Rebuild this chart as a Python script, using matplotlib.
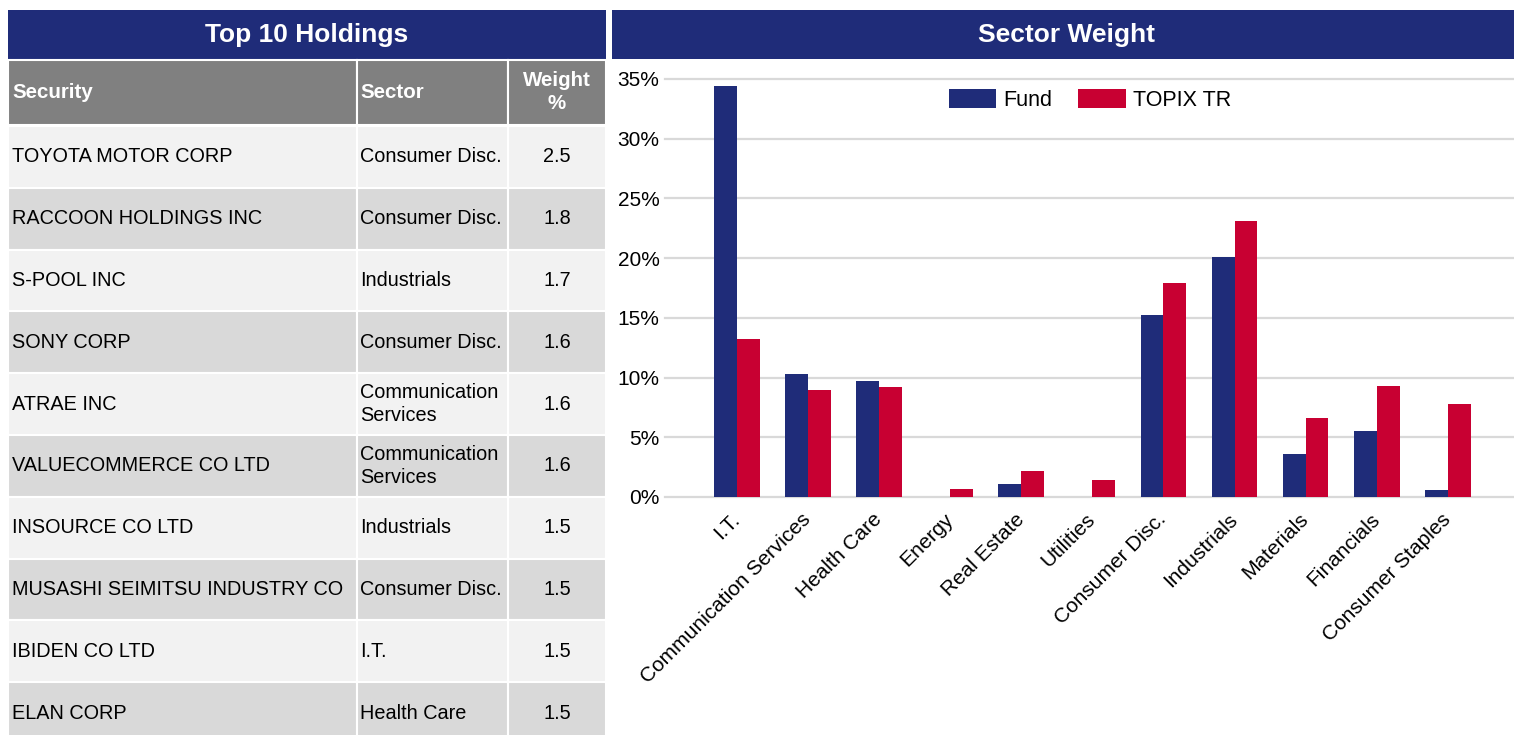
import numpy as np
import matplotlib
matplotlib.use("Agg")
import matplotlib.pyplot as plt
from matplotlib.patches import Rectangle

plt.rcParams['font.family'] = ['Liberation Sans', 'DejaVu Sans']

# top 10 holdings table
securities = ["TOYOTA MOTOR CORP", "RACCOON HOLDINGS INC", "S-POOL INC", "SONY CORP",
              "ATRAE INC", "VALUECOMMERCE CO LTD", "INSOURCE CO LTD",
              "MUSASHI SEIMITSU INDUSTRY CO", "IBIDEN CO LTD", "ELAN CORP"]
sectors = ["Consumer Disc.", "Consumer Disc.", "Industrials", "Consumer Disc.",
           "Communication\nServices", "Communication\nServices", "Industrials",
           "Consumer Disc.", "I.T.", "Health Care"]
weights = ["2.5", "1.8", "1.7", "1.6", "1.6", "1.6", "1.5", "1.5", "1.5", "1.5"]

# sector weight chart (%)
categories = ["I.T.", "Communication Services", "Health Care", "Energy", "Real Estate",
              "Utilities", "Consumer Disc.", "Industrials", "Materials", "Financials",
              "Consumer Staples"]
fund = [34.4, 10.3, 9.7, 0.0, 1.1, 0.0, 15.2, 20.1, 3.6, 5.5, 0.6]
topix = [13.2, 9.0, 9.2, 0.7, 2.2, 1.4, 17.9, 23.1, 6.6, 9.3, 7.8]

NAVY = "#1F2C79"
RED = "#C80032"
W, H = 1514, 735
TFS = 14.3  # table font size

fig = plt.figure(figsize=(W / 100, H / 100), dpi=100)

# background axes in pixel coordinates for the table and title bars
bg = fig.add_axes([0, 0, 1, 1])
bg.set_xlim(0, W)
bg.set_ylim(H, 0)
bg.axis("off")

# title bars
bg.add_patch(Rectangle((8, 10), 598, 49, fc=NAVY, ec="none"))
bg.add_patch(Rectangle((612, 10), W - 612, 49, fc=NAVY, ec="none"))
bg.text(307, 35, "Top 10 Holdings", color="white", fontsize=19, fontweight="bold",
        ha="center", va="center")
bg.text(1066, 35, "Sector Weight", color="white", fontsize=19, fontweight="bold",
        ha="center", va="center")

# header row
col_x = [8, 357, 508, 606]
hdr_top, hdr_bot = 60, 125
for j in range(3):
    bg.add_patch(Rectangle((col_x[j], hdr_top), col_x[j + 1] - col_x[j], hdr_bot - hdr_top,
                           fc="#808080", ec="white", lw=1.5))
bg.text(12, 92, "Security", color="white", fontsize=TFS + 0.5, fontweight="bold", va="center")
bg.text(360, 92, "Sector", color="white", fontsize=TFS + 0.5, fontweight="bold", va="center")
bg.text(557, 92, "Weight\n%", color="white", fontsize=TFS + 0.5, fontweight="bold",
        va="center", ha="center", linespacing=1.25)

# data rows
row_h = 61.8
for i in range(len(securities)):
    top = 126 + i * row_h
    fc = "#F2F2F2" if i % 2 == 0 else "#D9D9D9"
    for j in range(3):
        bg.add_patch(Rectangle((col_x[j], top), col_x[j + 1] - col_x[j], row_h,
                               fc=fc, ec="white", lw=1.5))
    cy = top + row_h / 2
    bg.text(12, cy, securities[i], fontsize=TFS, va="center", color="black")
    bg.text(360, cy, sectors[i], fontsize=TFS, va="center", color="black", linespacing=1.25)
    bg.text(557, cy, weights[i], fontsize=TFS, va="center", ha="center", color="black")

# bar chart
left, right, top_px, bot_px = 665, 1514, 79, 497
ax = fig.add_axes([left / W, 1 - bot_px / H, (right - left) / W, (bot_px - top_px) / H])
x = np.arange(len(categories))
bw = 0.32
ax.bar(x - bw / 2, fund, width=bw, color=NAVY, label="Fund", zorder=3)
ax.bar(x + bw / 2, topix, width=bw, color=RED, label="TOPIX TR", zorder=3)

ax.set_xlim(-1.01, 10.93)
ax.set_ylim(0, 35)
ax.set_yticks(np.arange(0, 36, 5))
ax.set_yticklabels([f"{v}%" for v in range(0, 36, 5)], fontsize=15)
for y in range(0, 36, 5):
    ax.axhline(y, color="#D9D9D9", lw=1.6, zorder=0, clip_on=False)
ax.set_xticks(x)
ax.set_xticklabels(categories, fontsize=15, rotation=45, ha="right",
                   rotation_mode="anchor", va="center")
ax.tick_params(axis="both", length=0)
ax.tick_params(axis="x", pad=14)
ax.tick_params(axis="y", pad=4)
for s in ax.spines.values():
    s.set_visible(False)

ax.legend(loc="center", bbox_to_anchor=(1090 / W, 1 - 100 / H), bbox_transform=fig.transFigure,
          ncol=2, frameon=False, fontsize=15.5, handlelength=2.2, handleheight=0.95,
          handletextpad=0.35, columnspacing=1.2)

fig.savefig("out.png", dpi=100)
